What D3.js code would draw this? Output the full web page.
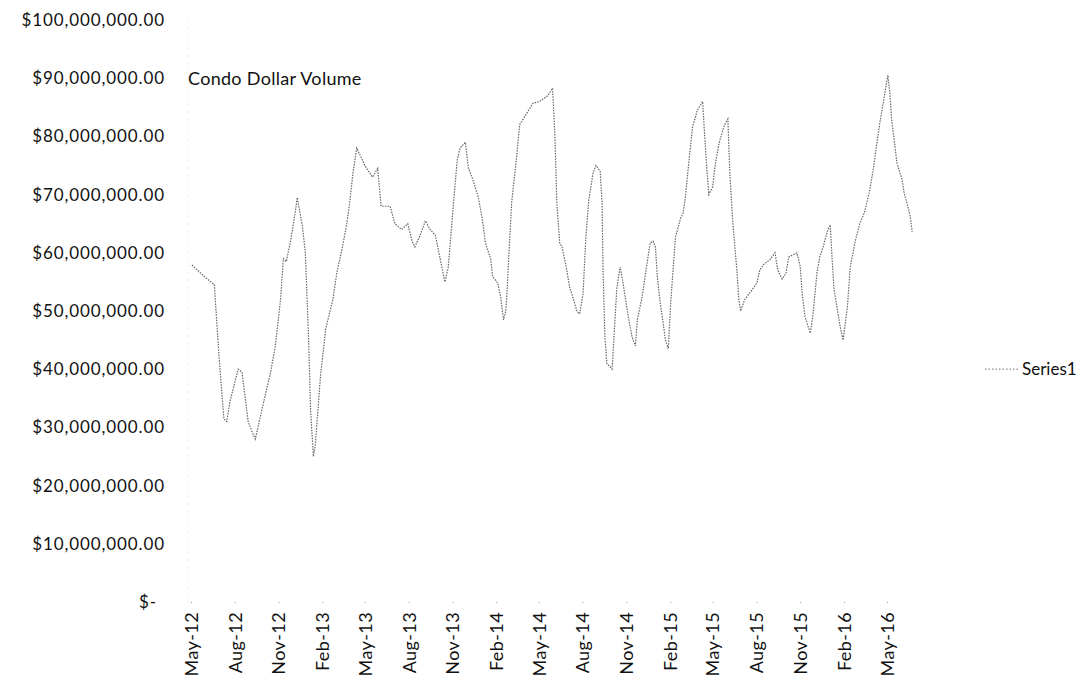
<!DOCTYPE html>
<html>
<head>
<meta charset="utf-8">
<script src="https://cdn.jsdelivr.net/npm/d3@7"></script>
<style>
  html, body { margin: 0; padding: 0; background: #fff; }
  svg { display: block; font-family: Lato, "Open Sans", sans-serif; }
</style>
</head>
<body>
<div id="chart"></div>
<script>
// weekly condo dollar volume, values in millions of dollars
const dates = [
  "2012-05-03","2012-05-28","2012-06-19","2012-06-29","2012-07-09","2012-07-15","2012-07-22","2012-08-08",
  "2012-08-16","2012-08-29","2012-09-05","2012-09-13","2012-09-24","2012-10-08","2012-10-14","2012-10-25",
  "2012-11-05","2012-11-11","2012-11-17","2012-11-26","2012-11-30","2012-12-06","2012-12-10","2012-12-21",
  "2012-12-27","2013-01-03","2013-01-07","2013-01-13","2013-01-17","2013-01-28","2013-02-08","2013-02-14",
  "2013-02-23","2013-03-03","2013-03-15","2013-03-24","2013-03-30","2013-04-06","2013-04-14","2013-05-01",
  "2013-05-17","2013-05-28","2013-06-04","2013-06-23","2013-07-03","2013-07-17","2013-07-30","2013-08-08",
  "2013-08-14","2013-08-25","2013-09-05","2013-09-15","2013-09-26","2013-10-06","2013-10-16","2013-10-23",
  "2013-11-03","2013-11-11","2013-11-17","2013-11-28","2013-12-04","2013-12-14","2013-12-25","2014-01-03",
  "2014-01-09","2014-01-20","2014-01-24","2014-02-04","2014-02-10","2014-02-16","2014-02-21","2014-02-25",
  "2014-03-05","2014-03-15","2014-03-22","2014-04-06","2014-04-19","2014-05-03","2014-05-20","2014-05-30",
  "2014-06-04","2014-06-08","2014-06-14","2014-06-19","2014-06-29","2014-07-05","2014-07-13","2014-07-20",
  "2014-07-26","2014-08-02","2014-08-08","2014-08-14","2014-08-23","2014-08-29","2014-09-07","2014-09-11",
  "2014-09-13","2014-09-17","2014-09-21","2014-10-02","2014-10-06","2014-10-12","2014-10-19","2014-10-25",
  "2014-11-05","2014-11-13","2014-11-20","2014-11-24","2014-12-04","2014-12-14","2014-12-21","2014-12-27",
  "2015-01-01","2015-01-05","2015-01-11","2015-01-17","2015-01-22","2015-01-28","2015-02-02","2015-02-12",
  "2015-02-23","2015-02-28","2015-03-05","2015-03-11","2015-03-20","2015-03-30","2015-04-10","2015-04-14",
  "2015-04-18","2015-04-23","2015-05-01","2015-05-07","2015-05-15","2015-05-26","2015-06-02","2015-06-06",
  "2015-06-12","2015-06-21","2015-06-25","2015-06-29","2015-07-07","2015-07-17","2015-08-02","2015-08-08",
  "2015-08-16","2015-08-29","2015-09-09","2015-09-15","2015-09-24","2015-10-02","2015-10-08","2015-10-25",
  "2015-11-01","2015-11-05","2015-11-11","2015-11-22","2015-11-28","2015-12-06","2015-12-12","2015-12-19",
  "2015-12-29","2016-01-03","2016-01-07","2016-01-11","2016-01-17","2016-01-24","2016-01-30","2016-02-08",
  "2016-02-14","2016-02-25","2016-03-05","2016-03-15","2016-03-26","2016-04-02","2016-04-10","2016-04-16",
  "2016-04-23","2016-05-03","2016-05-07","2016-05-11","2016-05-17","2016-05-22","2016-06-02","2016-06-06",
  "2016-06-14","2016-06-19","2016-06-23"
];
const volumes = [
  57.9, 56, 54.5, 42, 31.5, 31, 34.5, 40,
  39.5, 31, 29.5, 28, 32, 37, 39, 44,
  52, 59, 58.5, 62, 64, 67, 69.5, 64.5,
  60, 45, 33, 25, 27, 39, 47, 49,
  52, 56.5, 61, 65, 68.5, 73.7, 78, 75,
  73, 74.5, 68, 68, 65, 64, 65, 62,
  61, 63, 65.5, 64, 63, 59, 55, 57.5,
  68.5, 76, 78, 79, 74.7, 72.5, 69.6, 65.6,
  61.7, 59, 56, 54.8, 52.4, 48.5, 50, 55.8,
  68.5, 76, 82, 84, 85.7, 86, 87, 88.3,
  80, 68.5, 61.7, 61, 57, 54, 52, 50,
  49.5, 53, 62.7, 69, 73.7, 75, 74, 68.5,
  57, 45.5, 41, 40, 45.5, 54, 57.6, 54.8,
  49, 45.5, 44, 48.5, 52.4, 58, 61.7, 62,
  61, 55.8, 51.4, 48, 45, 43.5, 51.4, 62.7,
  66, 66.8, 69.6, 74.7, 81.6, 84.5, 86, 80.6,
  75.4, 70, 71.3, 75.4, 79, 82, 83, 74,
  65.6, 57, 52, 50, 51.9, 53, 54.8, 57,
  58, 58.8, 60, 57, 55.5, 56.5, 59.3, 60,
  57.6, 53, 49, 46.2, 49.6, 56.5, 59.3, 61,
  64, 64.8, 58.8, 53.6, 50.7, 47.2, 45, 50.7,
  57.6, 62.2, 65, 67, 70.8, 74.2, 78.9, 82.3,
  85.7, 90.5, 87.5, 82.8, 78.9, 75.4, 72.5, 70.3,
  67.9, 66.2, 63.6
];

const yTicks = [0, 10, 20, 30, 40, 50, 60, 70, 80, 90, 100];
const yTickLabels = ["$-", "$10,000,000.00", "$20,000,000.00", "$30,000,000.00", "$40,000,000.00",
  "$50,000,000.00", "$60,000,000.00", "$70,000,000.00", "$80,000,000.00", "$90,000,000.00", "$100,000,000.00"];
const xTickDates = ["2012-05-01","2012-08-01","2012-11-01","2013-02-01","2013-05-01","2013-08-01",
  "2013-11-01","2014-02-01","2014-05-01","2014-08-01","2014-11-01","2015-02-01","2015-05-01",
  "2015-08-01","2015-11-01","2016-02-01","2016-05-01"];
const xTickLabels = ["May-12","Aug-12","Nov-12","Feb-13","May-13","Aug-13","Nov-13","Feb-14","May-14",
  "Aug-14","Nov-14","Feb-15","May-15","Aug-15","Nov-15","Feb-16","May-16"];

const W = 1083, H = 692;
const parse = d3.utcParse('%Y-%m-%d');
const data = dates.map((d, i) => ({ date: parse(d), value: volumes[i] }));

const svg = d3.select('#chart').append('svg')
  .attr('width', W).attr('height', H);

const x = d3.scaleUtc()
  .domain([parse('2012-05-01'), parse('2016-07-01')])
  .range([191, 916]);

const y = d3.scaleLinear()
  .domain([0, 100])
  .range([602, 20]);

// y axis: labels only
const yAxis = svg.append('g')
  .attr('transform', 'translate(188,0)')
  .call(d3.axisLeft(y).tickValues(yTicks).tickSize(0).tickPadding(23)
    .tickFormat((d, i) => yTickLabels[i]));
yAxis.attr('font-family', null).attr('font-size', null);
yAxis.select('.domain').attr('stroke', '#ddd').attr('stroke-dasharray', '1,6');
yAxis.selectAll('text')
  .attr('fill', '#111')
  .style('font-size', '17px')
  .style('letter-spacing', '0.9px')
  .attr('dx', (d) => d === 0 ? -8 : 0);

// x axis: rotated month labels
const xAxis = svg.append('g')
  .attr('transform', 'translate(0,602)')
  .call(d3.axisBottom(x).tickValues(xTickDates.map(parse)).tickSize(3)
    .tickFormat((d, i) => xTickLabels[i]));
xAxis.attr('font-family', null).attr('font-size', null);
xAxis.select('.domain').remove();
xAxis.selectAll('line').attr('stroke', '#999').attr('stroke-dasharray', '1,2');
xAxis.selectAll('text')
  .attr('fill', '#111')
  .style('font-size', '18px')
  .style('letter-spacing', '0.4px')
  .attr('text-anchor', 'end')
  .attr('transform', 'rotate(-90)')
  .attr('x', -10)
  .attr('y', 0)
  .attr('dy', '0.35em');

// the series line
const line = d3.line()
  .x(d => x(d.date))
  .y(d => y(d.value));

svg.append('path')
  .datum(data)
  .attr('fill', 'none')
  .attr('stroke', '#666')
  .attr('stroke-width', 1.2)
  .attr('stroke-dasharray', '1.5,1.2')
  .attr('d', line);

// title
svg.append('text')
  .attr('x', 188)
  .attr('y', y(90))
  .attr('dy', '0.35em')
  .attr('fill', '#111')
  .style('font-size', '18px')
  .style('letter-spacing', '0.3px')
  .text('Condo Dollar Volume');

// legend
const legend = svg.append('g').attr('transform', 'translate(985,' + y(40) + ')');
legend.append('line')
  .attr('x1', 0).attr('x2', 33)
  .attr('stroke', '#888').attr('stroke-width', 1.2)
  .attr('stroke-dasharray', '1.5,2');
legend.append('text')
  .attr('x', 37)
  .attr('dy', '0.35em')
  .attr('fill', '#111')
  .style('font-size', '17px')
  .text('Series1');
</script>
</body>
</html>
